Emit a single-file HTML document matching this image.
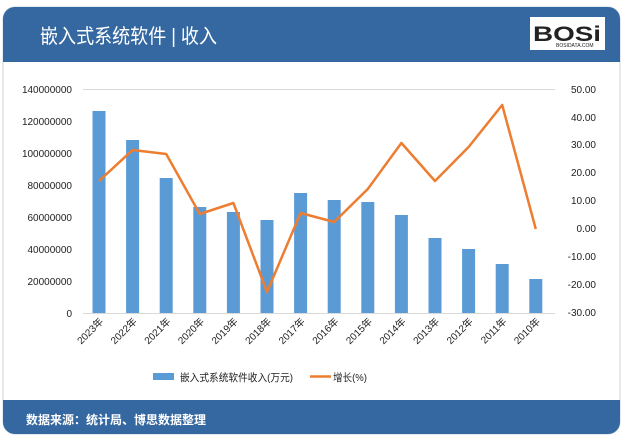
<!DOCTYPE html>
<html><head><meta charset="utf-8"><style>
body{margin:0;width:623px;height:439px;background:#fff;overflow:hidden;font-family:"Liberation Sans","Noto Sans CJK SC",sans-serif}
</style></head><body>
<svg width="623" height="439" xmlns="http://www.w3.org/2000/svg" font-family="Liberation Sans, Noto Sans CJK SC, sans-serif">
<rect x="3" y="7" width="617" height="427" rx="12" fill="#fff" stroke="#c9d3de"/>
<path d="M3 19 a12 12 0 0 1 12 -12 h593 a12 12 0 0 1 12 12 v43 h-617z" fill="#3568a0"/>
<path d="M3 400 h617 v22 a12 12 0 0 1 -12 12 h-593 a12 12 0 0 1 -12 -12z" fill="#3568a0"/>
<text x="40" y="43" fill="#fff" font-size="20" textLength="177" lengthAdjust="spacingAndGlyphs">嵌入式系统软件 | 收入</text>
<rect x="530" y="17" width="75" height="33" fill="#fff"/>
<text x="533" y="41" font-size="21" font-weight="bold" fill="#222" textLength="68" lengthAdjust="spacingAndGlyphs">BOSi</text>
<text x="556" y="47" font-size="5" fill="#222">BOSIDATA.COM</text>
<text x="26" y="424" fill="#fff" font-size="12" font-weight="bold">数据来源：统计局、博思数据整理</text>
<g stroke="#d9d9d9" stroke-width="1">
<line x1="83" y1="89.5" x2="555" y2="89.5"/>
<line x1="83" y1="313.5" x2="555" y2="313.5"/>
</g>
<g font-size="10" fill="#222" text-anchor="end">
<text x="72" y="93">140000000</text><text x="72" y="125">120000000</text><text x="72" y="157">100000000</text><text x="72" y="189">80000000</text><text x="72" y="221">60000000</text><text x="72" y="253">40000000</text><text x="72" y="285">20000000</text><text x="72" y="317">0</text>
</g>
<g font-size="10" fill="#222" text-anchor="end">
<text x="596" y="93">50.00</text><text x="596" y="121">40.00</text><text x="596" y="148">30.00</text><text x="596" y="176">20.00</text><text x="596" y="204">10.00</text><text x="596" y="232">0.00</text><text x="596" y="260">-10.00</text><text x="596" y="288">-20.00</text><text x="596" y="316">-30.00</text>
</g>
<g fill="#5b9bd5">
<rect x="92.5" y="111" width="13" height="202"/>
<rect x="126.1" y="140" width="13" height="173"/>
<rect x="159.7" y="178" width="13" height="135"/>
<rect x="193.3" y="207" width="13" height="106"/>
<rect x="226.9" y="212" width="13" height="101"/>
<rect x="260.5" y="220" width="13" height="93"/>
<rect x="294.1" y="193" width="13" height="120"/>
<rect x="327.7" y="200" width="13" height="113"/>
<rect x="361.3" y="202" width="13" height="111"/>
<rect x="394.9" y="215" width="13" height="98"/>
<rect x="428.5" y="238" width="13" height="75"/>
<rect x="462.1" y="249" width="13" height="64"/>
<rect x="495.7" y="264" width="13" height="49"/>
<rect x="529.3" y="279" width="13" height="34"/>
</g>
<polyline fill="none" stroke="#ed7d31" stroke-width="2.5" stroke-linejoin="round" points="99,181 132.6,150 166.2,154 199.8,214 233.4,203 267,292 300.6,213 334.2,222 367.8,189 401.4,143 435,181 468.6,147 502.2,105 535.8,229"/>
<g font-size="10" fill="#222" text-anchor="end">
<text transform="translate(104,322) rotate(-45)">2023年</text>
<text transform="translate(137.6,322) rotate(-45)">2022年</text>
<text transform="translate(171.2,322) rotate(-45)">2021年</text>
<text transform="translate(204.8,322) rotate(-45)">2020年</text>
<text transform="translate(238.4,322) rotate(-45)">2019年</text>
<text transform="translate(272,322) rotate(-45)">2018年</text>
<text transform="translate(305.6,322) rotate(-45)">2017年</text>
<text transform="translate(339.2,322) rotate(-45)">2016年</text>
<text transform="translate(372.8,322) rotate(-45)">2015年</text>
<text transform="translate(406.4,322) rotate(-45)">2014年</text>
<text transform="translate(440,322) rotate(-45)">2013年</text>
<text transform="translate(473.6,322) rotate(-45)">2012年</text>
<text transform="translate(507.2,322) rotate(-45)">2011年</text>
<text transform="translate(540.8,322) rotate(-45)">2010年</text>
</g>
<rect x="153" y="373" width="21" height="7" fill="#5b9bd5"/>
<text x="180" y="381" font-size="10.5" fill="#222" textLength="113" lengthAdjust="spacingAndGlyphs">嵌入式系统软件收入(万元)</text>
<line x1="310" y1="376.5" x2="331" y2="376.5" stroke="#ed7d31" stroke-width="2.5"/>
<text x="333" y="381" font-size="10.5" fill="#222" textLength="34" lengthAdjust="spacingAndGlyphs">增长(%)</text>
</svg>
</body></html>
